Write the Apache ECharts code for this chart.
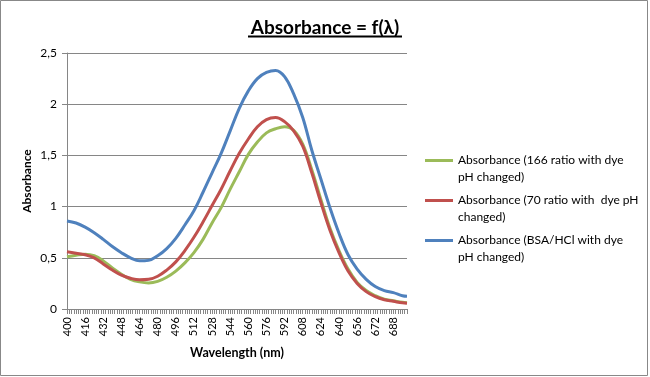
<!DOCTYPE html>
<html>
<head>
<meta charset="utf-8">
<script src="https://cdn.jsdelivr.net/npm/echarts@6/dist/echarts.min.js"></script>
<style>
  html, body { margin: 0; padding: 0; background: #fff; }
  #chart { width: 650px; height: 377px; }
</style>
</head>
<body>
<div id="chart"></div>
<script>
var wavelengths = [400, 408, 416, 424, 432, 440, 448, 456, 464, 472, 480, 488, 496, 504, 512, 520,
    528, 536, 544, 552, 560, 568, 576, 584, 592, 600, 608, 616, 624, 632, 640, 648, 656, 664,
    672, 680, 688, 696, 700];
var abs_166 = [0.51, 0.525, 0.535, 0.52, 0.47, 0.40, 0.34, 0.29, 0.265, 0.255, 0.27, 0.31, 0.37,
    0.45, 0.55, 0.68, 0.84, 0.99, 1.17, 1.34, 1.51, 1.63, 1.72, 1.76, 1.78, 1.745, 1.61, 1.36,
    1.07, 0.79, 0.57, 0.39, 0.26, 0.18, 0.13, 0.095, 0.08, 0.065, 0.06];
var abs_70 = [0.56, 0.545, 0.53, 0.50, 0.44, 0.38, 0.33, 0.30, 0.285, 0.29, 0.32, 0.38, 0.46,
    0.57, 0.70, 0.85, 1.01, 1.17, 1.35, 1.52, 1.66, 1.78, 1.85, 1.87, 1.83, 1.74, 1.59, 1.33,
    1.04, 0.77, 0.55, 0.37, 0.25, 0.17, 0.12, 0.09, 0.075, 0.06, 0.055];
var abs_bsa = [0.86, 0.84, 0.80, 0.745, 0.68, 0.61, 0.55, 0.50, 0.47, 0.475, 0.52, 0.59, 0.69,
    0.82, 0.96, 1.14, 1.33, 1.52, 1.74, 1.96, 2.13, 2.25, 2.31, 2.33, 2.27, 2.10, 1.87, 1.55,
    1.27, 0.99, 0.74, 0.53, 0.39, 0.29, 0.22, 0.18, 0.16, 0.13, 0.125];
var series_names = ['Absorbance (166 ratio with dye pH changed)',
    'Absorbance (70 ratio with  dye pH changed)',
    'Absorbance (BSA/HCl with dye pH changed)'];
var legend_lines = ['Absorbance (166 ratio with dye\npH changed)',
    'Absorbance (70 ratio with  dye pH\nchanged)',
    'Absorbance (BSA/HCl with dye\npH changed)'];
var colors = ['#9BBB59', '#C0504D', '#4F81BD'];

function pairs(values) {
    return wavelengths.map(function (w, i) { return [w, values[i]]; });
}

var font = 'Lato, "Open Sans", sans-serif';
var myChart = echarts.init(document.getElementById('chart'));

var allData = [abs_166, abs_70, abs_bsa];
var series = allData.map(function (d, i) {
    return {
        name: series_names[i],
        type: 'line',
        data: pairs(d),
        symbol: 'none',
        smooth: 0.4,
        lineStyle: { width: 3, color: colors[i] },
        itemStyle: { color: colors[i] }
    };
});

var option = {
    animation: false,
    backgroundColor: '#fff',
    title: {
        text: 'Absorbance = f(λ)',
        left: 'center',
        top: 13,
        textStyle: { fontFamily: font, fontSize: 19, fontWeight: 'bold', color: '#000' }
    },
    graphic: [
        { type: 'rect', shape: { x: 0.5, y: 0.5, width: 647, height: 375 },
          style: { fill: 'none', stroke: '#888', lineWidth: 1 } },
        { type: 'line', shape: { x1: 248, y1: 36.5, x2: 402, y2: 36.5 },
          style: { stroke: '#000', lineWidth: 2 } }
    ],
    legend: {
        orient: 'vertical',
        left: 425,
        top: 135,
        padding: 0,
        itemGap: -11,
        itemWidth: 28,
        itemHeight: 3,
        icon: 'rect',
        data: series_names,
        // leading blank line keeps the icon level with the first text line
        formatter: function (name) { return '\n' + legend_lines[series_names.indexOf(name)]; },
        textStyle: { fontFamily: font, fontSize: 12, color: '#000', lineHeight: 17 }
    },
    grid: { left: 67, right: 243, top: 53, bottom: 68, containLabel: false },
    xAxis: {
        type: 'value',
        min: 400,
        max: 700,
        interval: 16,
        name: 'Wavelength (nm)',
        nameLocation: 'middle',
        nameGap: 37,
        nameTextStyle: { fontFamily: font, fontSize: 12.5, fontWeight: 'bold', color: '#000' },
        axisLine: { show: true, lineStyle: { color: '#868686', width: 1 } },
        axisTick: { show: true, length: 5, lineStyle: { color: '#868686' } },
        minorTick: { show: true, splitNumber: 8, length: 5, lineStyle: { color: '#868686' } },
        axisLabel: { rotate: 90, margin: 8, fontFamily: font, fontSize: 11, color: '#000', showMaxLabel: false },
        splitLine: { show: false }
    },
    yAxis: {
        type: 'value',
        min: 0,
        max: 2.5,
        interval: 0.5,
        name: 'Absorbance',
        nameLocation: 'middle',
        nameGap: 34,
        nameMoveOverlap: false,
        nameTextStyle: { fontFamily: font, fontSize: 12, fontWeight: 'bold', color: '#000' },
        axisLine: { show: true, lineStyle: { color: '#868686', width: 1 } },
        axisTick: { show: true, length: 5, lineStyle: { color: '#868686' } },
        axisLabel: {
            margin: 10, fontFamily: font, fontSize: 12, color: '#000',
            formatter: function (v) { return String(v).replace('.', ','); }
        },
        splitLine: { show: true, lineStyle: { color: '#868686', width: 1 } }
    },
    series: series
};

myChart.setOption(option);
</script>
</body>
</html>
